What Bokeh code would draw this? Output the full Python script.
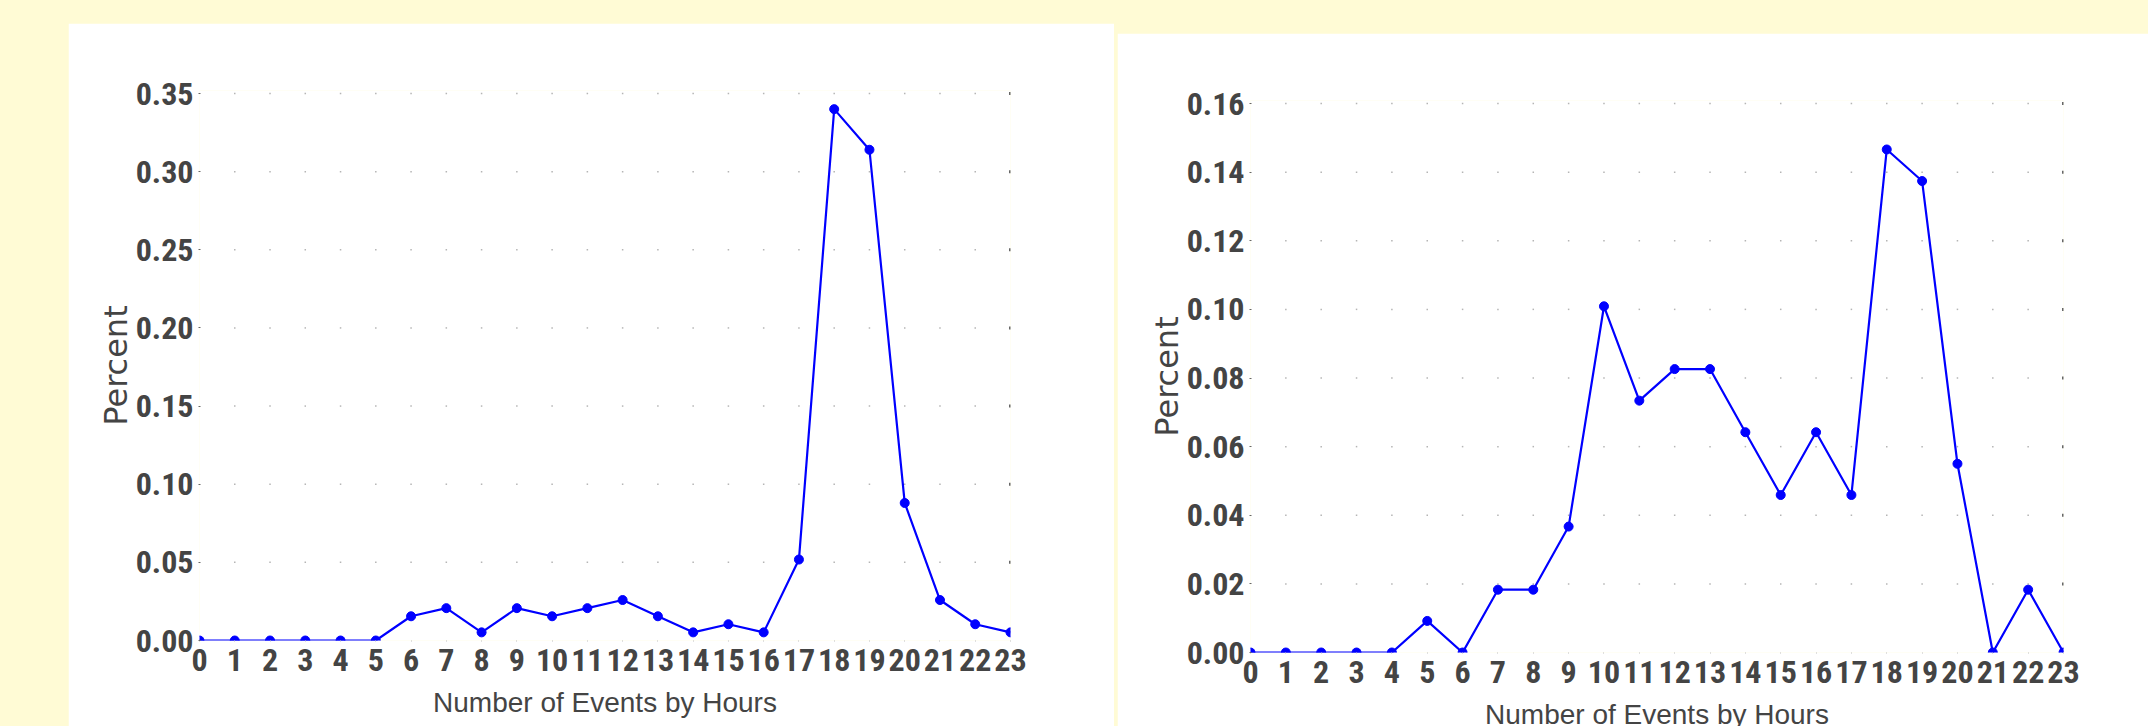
from bokeh.plotting import figure
from bokeh.layouts import row
from bokeh.models import Range1d, FixedTicker, PrintfTickFormatter
from bokeh.embed import file_html
from bokeh.resources import INLINE

# ---------------- data ----------------
hours = list(range(24))
left_percent = [0, 0, 0, 0, 0, 0, 0.0155, 0.0207, 0.0052, 0.0207, 0.0155, 0.0207,
                0.0259, 0.0155, 0.0052, 0.0104, 0.0052, 0.0518, 0.340, 0.314,
                0.088, 0.0259, 0.0104, 0.0052]
right_percent = [0, 0, 0, 0, 0, 0.0092, 0, 0.0183, 0.0183, 0.0367, 0.1009, 0.0734,
                 0.0826, 0.0826, 0.0642, 0.0459, 0.0642, 0.0459, 0.1466, 0.1374,
                 0.0550, 0, 0.0183, 0]
left_yticks = [0.00, 0.05, 0.10, 0.15, 0.20, 0.25, 0.30, 0.35]
right_yticks = [0.00, 0.02, 0.04, 0.06, 0.08, 0.10, 0.12, 0.14, 0.16]
x_label = "Number of Events by Hours"
y_label = "Percent"

PAGE_BG = "#FFFBD5"
TEXT = "#444444"
BLUE = "#0000FF"
TICK_FONT = "'Roboto Condensed', 'Liberation Sans Narrow', 'Liberation Sans', sans-serif"


def make_panel(values, yticks, frame_w, tick_px, borders, margin):
    pad = 3
    frame_h = tick_px + pad
    y_end = yticks[-1] * frame_h / tick_px
    left, right, top, bottom = borders
    p = figure(frame_width=frame_w, frame_height=frame_h,
               x_range=Range1d(hours[0], hours[-1]), y_range=Range1d(0, y_end),
               output_backend="svg", toolbar_location=None,
               min_border_left=left, min_border_right=right,
               min_border_top=top, min_border_bottom=bottom,
               background_fill_color="white", border_fill_color="white",
               outline_line_color=None, margin=margin)
    p.xgrid.grid_line_color = None
    p.ygrid.grid_line_color = None

    # dotted lattice (grid) at every hour x every y tick
    gx, gy = [], []
    for h in hours[1:-1]:
        for t in yticks[1:]:
            gx.append(h)
            gy.append(t)
    p.scatter(gx, gy, marker="square", size=1.5, fill_color="#b5b5b5", line_color=None)
    # darker dots along the right edge
    p.scatter([hours[-1]] * (len(yticks) - 1), yticks[1:], marker="square", size=3,
              fill_color="#666666", line_color=None)

    p.line(hours, values, line_color=BLUE, line_width=2.2)
    p.scatter(hours, values, size=9, fill_color=BLUE, line_color=BLUE)

    xa = p.xaxis[0]
    xa.ticker = FixedTicker(ticks=hours)
    xa.major_tick_line_color = "#c0c0c0"
    xa.major_tick_out = 1
    xa.major_tick_in = 0
    xa.major_label_standoff = 7
    xa.axis_label = x_label
    xa.axis_label_standoff = 13

    ya = p.yaxis[0]
    ya.ticker = FixedTicker(ticks=yticks)
    ya.formatter = PrintfTickFormatter(format="%.2f")
    ya.major_tick_line_color = "#666666"
    ya.major_tick_out = 1
    ya.major_tick_in = 1
    ya.major_label_standoff = 5
    ya.axis_label = y_label
    ya.axis_label_standoff = -2

    for ax in (xa, ya):
        ax.axis_line_color = None
        ax.minor_tick_line_color = None
        ax.major_label_text_font = TICK_FONT
        ax.major_label_text_font_style = "bold"
        ax.major_label_text_font_size = "32px"
        ax.major_label_text_color = TEXT
        ax.axis_label_text_font_style = "normal"
        ax.axis_label_text_color = TEXT
    xa.axis_label_text_font = "Liberation Sans"
    xa.axis_label_text_font_size = "28px"
    ya.axis_label_text_font = "DejaVu Sans"
    ya.axis_label_text_font_size = "32px"
    return p


p1 = make_panel(left_percent, left_yticks, 811, 547, (131, 104, 66, 87), (23, 0, 0, 68))
p2 = make_panel(right_percent, right_yticks, 813, 549, (133, 85, 67, 90), (33, 0, 0, 3))

layout = row(p1, p2)

html = file_html(layout, INLINE)
html = html.replace("<head>", "<head><style>html,body{background:" + PAGE_BG +
                    ";overflow:hidden;}</style>", 1)
open("out.html", "w").write(html)
